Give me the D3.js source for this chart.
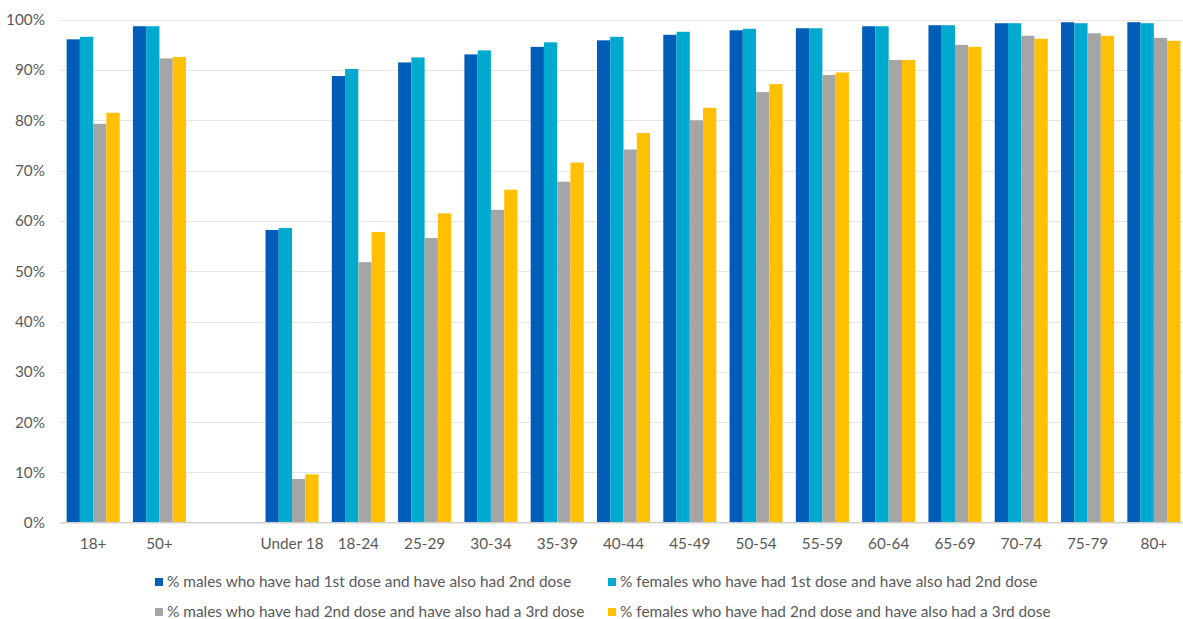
<!DOCTYPE html>
<html>
<head>
<meta charset="utf-8">
<script src="https://cdn.jsdelivr.net/npm/d3@7"></script>
<style>
  html, body { margin: 0; padding: 0; background: #fff; }
  svg { display: block; }
  text { font-family: Lato, "Open Sans", sans-serif; fill: #595959; }
</style>
</head>
<body>
<svg id="chart" width="1183" height="619"></svg>
<script>
// Age groups (an empty slot separates the summary groups from the age bands)
const categories = ["18+", "50+", "", "Under 18", "18-24", "25-29", "30-34", "35-39", "40-44",
  "45-49", "50-54", "55-59", "60-64", "65-69", "70-74", "75-79", "80+"];

// Series values, percent
const males2nd   = [96.1, 98.7, null, 58.2, 88.8, 91.5, 93.1, 94.6, 95.9, 97.0, 97.9, 98.3, 98.7, 98.9, 99.3, 99.5, 99.5];
const females2nd = [96.6, 98.7, null, 58.6, 90.2, 92.5, 93.9, 95.5, 96.6, 97.6, 98.2, 98.3, 98.7, 98.9, 99.3, 99.3, 99.3];
const males3rd   = [79.3, 92.3, null,  8.7, 51.8, 56.6, 62.2, 67.8, 74.2, 80.0, 85.6, 89.0, 92.0, 95.0, 96.8, 97.3, 96.4];
const females3rd = [81.5, 92.6, null,  9.6, 57.8, 61.5, 66.2, 71.6, 77.5, 82.5, 87.2, 89.5, 92.0, 94.6, 96.2, 96.8, 95.8];

const seriesNames = [
  "% males who have had 1st dose and have also had 2nd dose",
  "% females who have had 1st dose and have also had 2nd dose",
  "% males who have had 2nd dose and have also had a 3rd dose",
  "% females who have had 2nd dose and have also had a 3rd dose"
];
const seriesValues = [males2nd, females2nd, males3rd, females3rd];
const colors = ["#005EB8", "#00A9CE", "#A5A5A5", "#FFC000"];
const yTicks = [0, 10, 20, 30, 40, 50, 60, 70, 80, 90, 100];

const svg = d3.select("#chart");
const plot = { left: 60, right: 1187, top: 19.7, bottom: 522.7 };

const x = d3.scaleBand().domain(categories.map((c, i) => i))
  .range([plot.left, plot.right]).paddingInner(0.2).paddingOuter(0.1);
const xs = d3.scaleBand().domain(d3.range(seriesNames.length))
  .range([0, x.bandwidth()]);
const y = d3.scaleLinear().domain([0, 100]).range([plot.bottom, plot.top]);

// Horizontal gridlines
svg.append("g").selectAll("line").data(yTicks.filter(d => d > 0)).join("line")
  .attr("x1", plot.left).attr("x2", 1183)
  .attr("y1", d => Math.round(y(d)) + 0.5).attr("y2", d => Math.round(y(d)) + 0.5)
  .attr("stroke", "#e4e4e4").attr("stroke-width", 1);

// Y axis labels
const yAxis = d3.axisLeft(y).tickValues(yTicks).tickFormat(d => d + "%").tickSize(0).tickPadding(0);
const yg = svg.append("g").attr("transform", `translate(45,0)`).call(yAxis);
yg.select(".domain").remove();
yg.selectAll("text").attr("font-size", 15.3).attr("fill", "#595959")
  .style("font-family", "Lato, 'Open Sans', sans-serif");

// Bars
const groups = svg.append("g").selectAll("g").data(categories.map((c, i) => i)).join("g")
  .attr("transform", i => `translate(${x(i)},0)`);
groups.selectAll("rect")
  .data(i => seriesValues.map((vals, s) => ({ s, v: vals[i] })).filter(d => d.v != null))
  .join("rect")
  .attr("x", d => xs(d.s))
  .attr("width", xs.bandwidth())
  .attr("y", d => y(d.v))
  .attr("height", d => y(0) - y(d.v))
  .attr("fill", d => colors[d.s]);

// Category axis
const xAxis = d3.axisBottom(x).tickFormat(i => categories[i]).tickSize(0).tickPadding(15);
const xg = svg.append("g").attr("transform", `translate(0,${plot.bottom})`).call(xAxis);
xg.select(".domain").attr("stroke", "#d0d0d0").attr("stroke-width", 1.5)
  .attr("d", `M${plot.left},0H1183`);
xg.selectAll("text").attr("font-size", 15.3).attr("fill", "#595959")
  .style("font-family", "Lato, 'Open Sans', sans-serif");

// Legend, two columns by two rows
const legendPos = [[155, 582], [608, 582], [155, 612], [608, 612]];
const legend = svg.append("g").selectAll("g").data(seriesNames).join("g")
  .attr("transform", (d, i) => `translate(${legendPos[i][0]},${legendPos[i][1]})`);
legend.append("rect").attr("x", 0).attr("y", -4).attr("width", 8).attr("height", 8)
  .attr("fill", (d, i) => colors[i]);
legend.append("text").attr("x", 12).attr("y", 0).attr("dy", "0.35em")
  .attr("font-size", 15.4).text(d => d);
</script>
</body>
</html>
